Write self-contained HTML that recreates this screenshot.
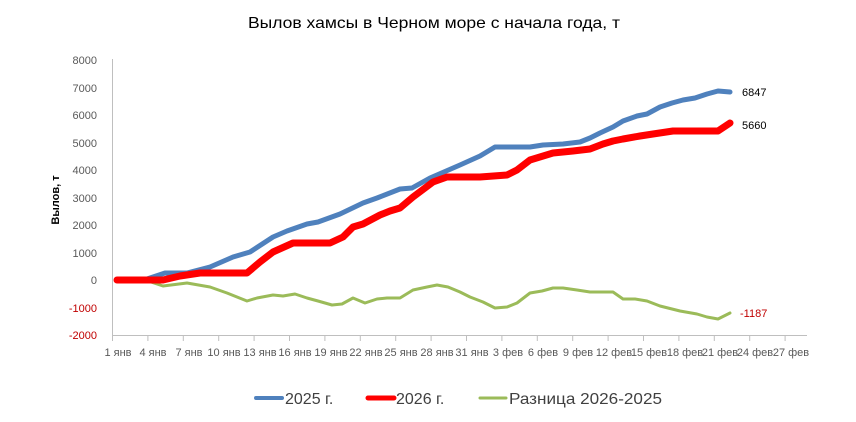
<!DOCTYPE html>
<html><head><meta charset="utf-8"><style>body{margin:0;background:#fff}svg{display:block}</style></head><body>
<svg width="856" height="422" xmlns="http://www.w3.org/2000/svg" font-family="Liberation Sans, DejaVu Sans, sans-serif">
<rect width="856" height="422" fill="#fff"/>
<text x="248" y="28" font-size="16" textLength="372" lengthAdjust="spacingAndGlyphs" fill="#000">Вылов хамсы в Черном море с начала года, т</text>
<g stroke="#bfbfbf" stroke-width="1" fill="none">
<line x1="112.5" y1="59" x2="112.5" y2="336"/>
<line x1="112" y1="335.5" x2="807" y2="335.5"/>
<path d="M112.5 336v5M147.9 336v5M183.3 336v5M218.7 336v5M254.1 336v5M289.5 336v5M324.9 336v5M360.3 336v5M395.7 336v5M431.1 336v5M466.5 336v5M501.9 336v5M537.3 336v5M572.7 336v5M608.1 336v5M643.5 336v5M678.9 336v5M714.3 336v5M749.7 336v5M785.1 336v5"/>
</g>
<g font-size="11" fill="#595959" text-anchor="end">
<text x="97" y="64">8000</text><text x="97" y="92">7000</text><text x="97" y="119">6000</text><text x="97" y="147">5000</text><text x="97" y="174">4000</text><text x="97" y="202">3000</text><text x="97" y="229">2000</text><text x="97" y="257">1000</text><text x="97" y="284">0</text>
<text x="97" y="312" fill="#c00000">-1000</text><text x="97" y="339" fill="#c00000">-2000</text>
</g>
<text transform="translate(59,200) rotate(-90)" font-size="11" font-weight="bold" text-anchor="middle">Вылов, т</text>
<g font-size="11" fill="#595959" text-anchor="middle">
<text x="118" y="356">1 янв</text><text x="153" y="356">4 янв</text><text x="189" y="356">7 янв</text><text x="224" y="356">10 янв</text><text x="260" y="356">13 янв</text><text x="295" y="356">16 янв</text><text x="331" y="356">19 янв</text><text x="366" y="356">22 янв</text><text x="401" y="356">25 янв</text><text x="437" y="356">28 янв</text><text x="472" y="356">31 янв</text><text x="508" y="356">3 фев</text><text x="543" y="356">6 фев</text><text x="578" y="356">9 фев</text><text x="614" y="356">12 фев</text><text x="649" y="356">15 фев</text><text x="685" y="356">18 фев</text><text x="720" y="356">21 фев</text><text x="755" y="356">24 фев</text><text x="791" y="356">27 фев</text>
</g>
<g fill="none" stroke-linejoin="round" stroke-linecap="round">
<polyline stroke="#9bbb59" stroke-width="3" points="117,279 142,279 163,286 187,283 210,287 227,293 247,301 257,298 273,295 283,296 295,294 307,298 318,301 332,305 342,304 353,298 365,303 377,299 387,298 400,298 413,290 427,287 437,285 448,287 460,292 470,297 483,302 495,308 507,307 517,303 530,293 542,291 553,288 563,288 577,290 590,292 613,292 623,299 635,299 647,301 660,306 680,311 697,314 707,317 718,319 730,313"/>
<polyline stroke="#4f81bd" stroke-width="5" points="117,280 147,279 165,273 187,273 210,267 233,257 250,252 273,237 287,231 307,224 318,222 340,214 363,203 377,198 400,189 412,188 430,178 460,165 480,156 495,147 530,147 543,145 563,144 580,142 590,138 600,133 613,127 623,121 637,116 647,114 660,107 672,103 683,100 695,98 707,94 718,91 730,92"/>
<polyline stroke="#ff0000" stroke-width="7" points="117,280 163,280 180,276 200,273 247,273 260,262 273,252 293,243 330,243 343,237 353,227 363,224 380,215 390,211 400,208 413,197 433,182 447,177 470,177 480,177 507,175 517,170 530,160 553,153 573,151 590,149 603,144 613,141 623,139 640,136 653,134 673,131 718,131 730,123"/>
</g>
<text x="742" y="96" font-size="11" fill="#000">6847</text>
<text x="742" y="129" font-size="11" fill="#000">5660</text>
<text x="740" y="317" font-size="11" fill="#c00000">-1187</text>
<g stroke-linecap="round">
<line x1="256" y1="398" x2="282" y2="398" stroke="#4f81bd" stroke-width="4"/>
<line x1="368" y1="398" x2="394" y2="398" stroke="#ff0000" stroke-width="5"/>
<line x1="480" y1="398" x2="506" y2="398" stroke="#9bbb59" stroke-width="3"/>
</g>
<g font-size="16" fill="#404040">
<text x="285" y="404">2025 г.</text>
<text x="396" y="404">2026 г.</text>
<text x="509" y="404" textLength="153" lengthAdjust="spacingAndGlyphs">Разница 2026-2025</text>
</g>
</svg>
</body></html>
